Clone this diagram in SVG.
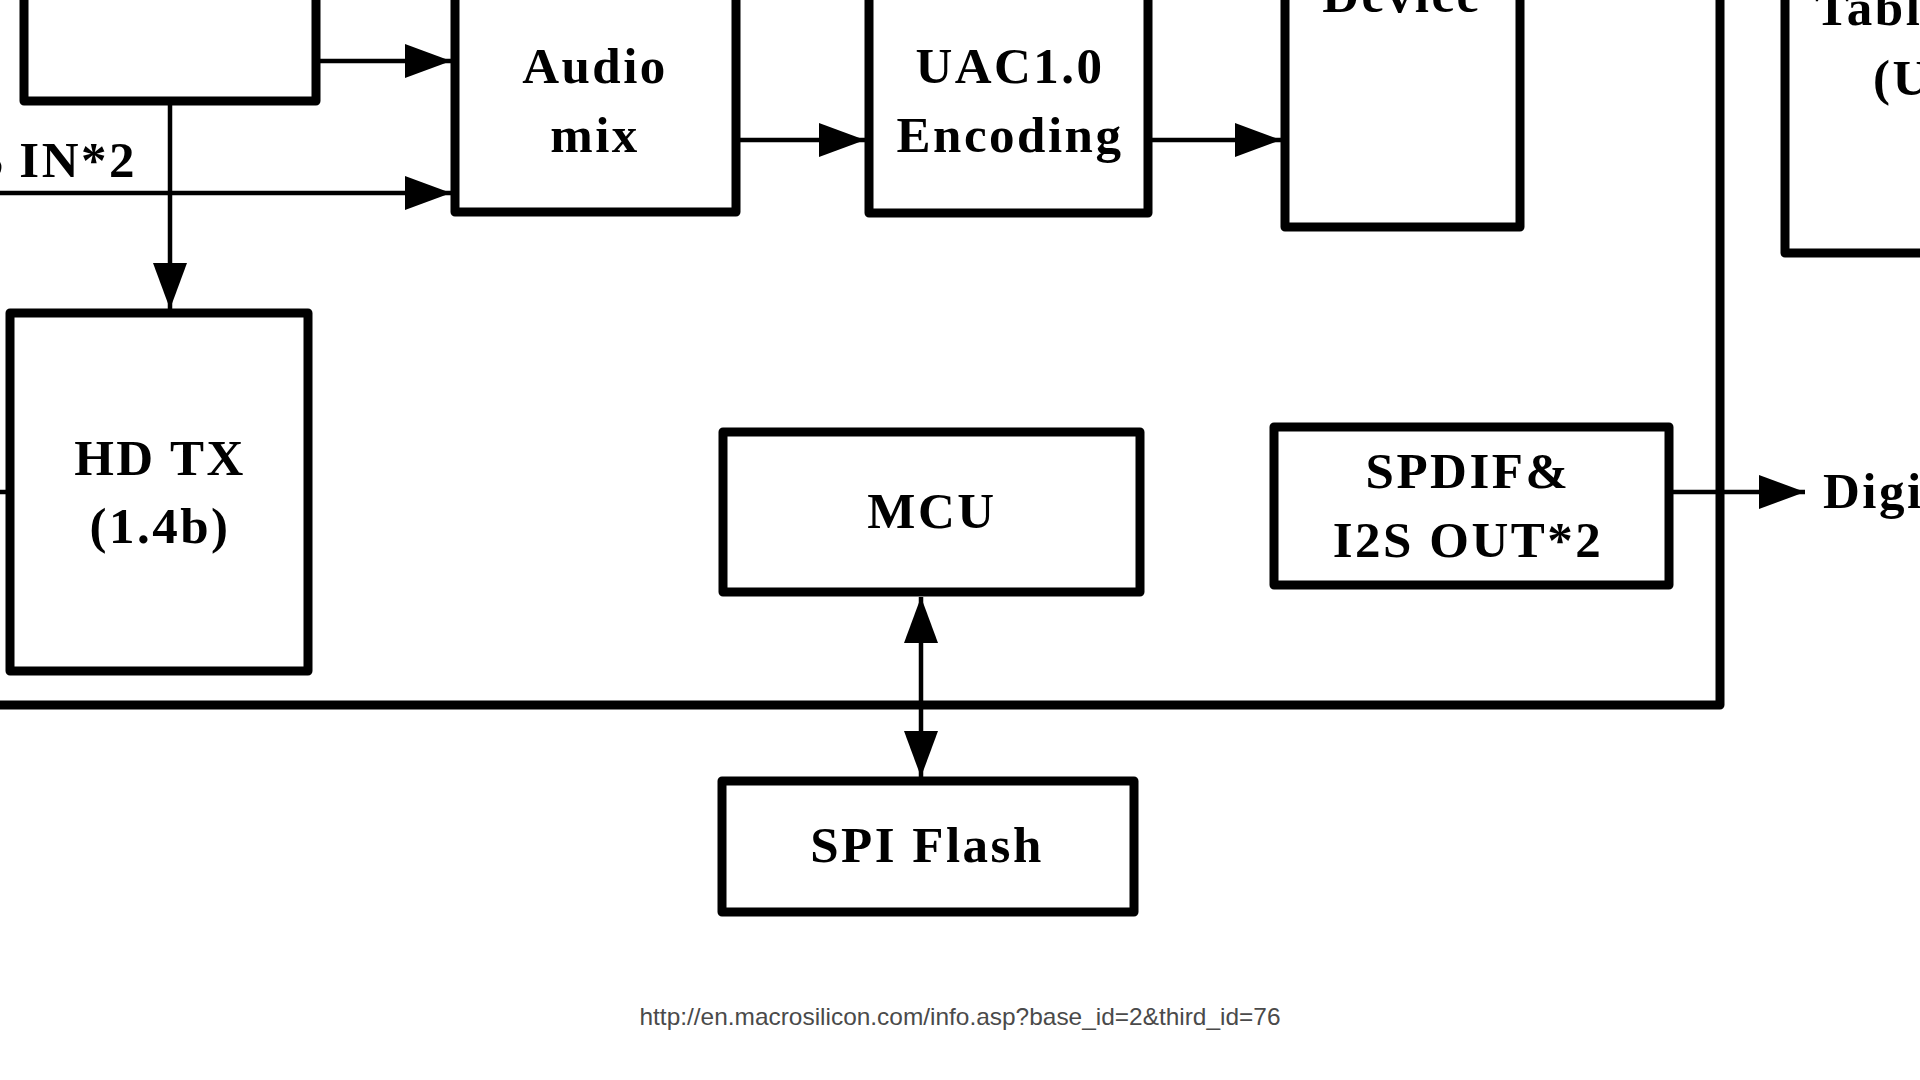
<svg xmlns="http://www.w3.org/2000/svg" width="1920" height="1080" viewBox="0 0 1920 1080">
<style>
.box{fill:#fff;stroke:#000;stroke-width:9;stroke-linejoin:round}
.lbl{font-family:"Liberation Serif","Times New Roman",serif;font-weight:bold;font-size:51px;fill:#000;letter-spacing:2.5px}
.c{text-anchor:middle}
.con{fill:none;stroke:#000;stroke-width:4.5}
.bus{fill:none;stroke:#000;stroke-width:9;stroke-linejoin:round}
.url{font-family:"Liberation Sans",Arial,sans-serif;font-size:24px;fill:#4a4a4a;text-anchor:middle}
</style>
<defs>
<marker id="ah" markerUnits="userSpaceOnUse" markerWidth="48" markerHeight="34" refX="46" refY="17" orient="auto-start-reverse">
<path d="M0,0 L46,17 L0,34 z" fill="#000"/>
</marker>
</defs>
<rect width="1920" height="1080" fill="#fff"/>
<g id="connectors">
<path class="con" d="M319,61 H451" marker-end="url(#ah)"/>
<path class="con" d="M0,193 H451" marker-end="url(#ah)"/>
<path class="con" d="M170,104 V309" marker-end="url(#ah)"/>
<path class="con" d="M740,140 H865" marker-end="url(#ah)"/>
<path class="con" d="M1152,140 H1281" marker-end="url(#ah)"/>
<path class="bus" d="M0,705 H1720 V-10"/>
<path class="con" d="M1673,492 H1805" marker-end="url(#ah)"/>
<path class="con" d="M921,597 V777" marker-start="url(#ah)" marker-end="url(#ah)"/>
<path class="con" d="M0,492 H8"/>
</g>
<g id="node-src">
<rect class="box" x="24" y="-20" width="292" height="121"/>
</g>
<g id="node-audiomix">
<rect class="box" x="455" y="-20" width="281" height="232"/>
<text class="lbl c" x="595" y="83">Audio</text>
<text class="lbl c" x="595" y="152">mix</text>
</g>
<g id="node-uac">
<rect class="box" x="869" y="-20" width="279" height="233"/>
<text class="lbl c" x="1010" y="83">UAC1.0</text>
<text class="lbl c" x="1010" y="152">Encoding</text>
</g>
<g id="node-device">
<rect class="box" x="1285" y="-20" width="235" height="247"/>
<text class="lbl c" x="1402" y="12">Device</text>
</g>
<g id="node-tablet">
<rect class="box" x="1785" y="-20" width="200" height="273"/>
<text class="lbl" x="1815" y="25">Tablet</text>
<text class="lbl" x="1873" y="95">(USB)</text>
</g>
<g id="label-i2sin">
<text class="lbl" x="137" y="177" text-anchor="end" word-spacing="-2">I2S IN*2</text>
</g>
<g id="node-hdtx">
<rect class="box" x="10" y="313" width="298" height="358"/>
<text class="lbl c" x="160" y="475">HD TX</text>
<text class="lbl c" x="160" y="543">(1.4b)</text>
</g>
<g id="node-mcu">
<rect class="box" x="723" y="432" width="417" height="160"/>
<text class="lbl c" x="932" y="528">MCU</text>
</g>
<g id="node-spdif">
<rect class="box" x="1274" y="427" width="395" height="158"/>
<text class="lbl c" x="1468" y="488">SPDIF&amp;</text>
<text class="lbl c" x="1468" y="557">I2S OUT*2</text>
</g>
<g id="label-digital">
<text class="lbl" x="1823" y="508">Digital</text>
</g>
<g id="node-spiflash">
<rect class="box" x="722" y="781" width="412" height="131"/>
<text class="lbl c" x="927" y="862">SPI Flash</text>
</g>
<text class="url" x="960" y="1025" textLength="641" lengthAdjust="spacingAndGlyphs">http://en.macrosilicon.com/info.asp?base_id=2&amp;third_id=76</text>
</svg>
